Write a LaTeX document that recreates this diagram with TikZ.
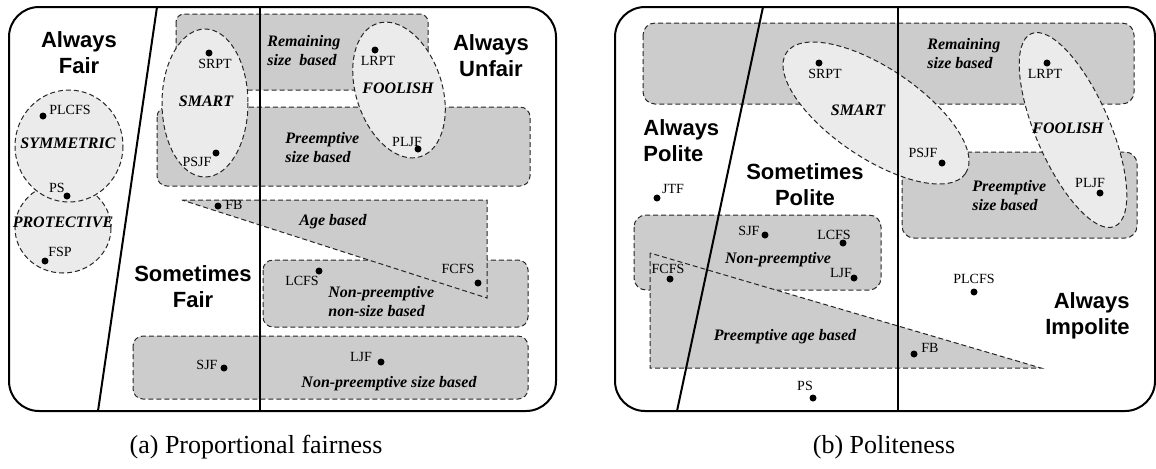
\documentclass[tikz,border=0pt]{standalone}
\usepackage{fontspec}
\setmainfont{Liberation Serif}
\newfontfamily\headfont{Liberation Sans}
\definecolor{boxgray}{gray}{0.8}
\definecolor{ellgray}{gray}{0.92}
\begin{document}
\begin{tikzpicture}[x=0.5pt,y=-0.5pt,
  frame/.style={line width=1pt, black},
  region/.style={draw=black!85, dash pattern=on 2.5pt off 1.5pt, line width=0.5pt, fill=boxgray},
  family/.style={draw=black!85, dash pattern=on 2.5pt off 1.5pt, line width=0.5pt, fill=ellgray},
  pt/.style={circle, fill=black, inner sep=0pt, minimum size=3.5pt},
  pname/.style={font=\fontsize{7}{8}\selectfont, inner sep=0pt},
  rname/.style={font=\fontsize{8}{9.5}\selectfont\bfseries\itshape, inner sep=0pt, align=left},
  zone/.style={font=\headfont\fontsize{11}{13}\selectfont\bfseries, inner sep=0pt, align=center},
  caption/.style={font=\fontsize{13}{15}\selectfont, inner sep=0pt}]
\useasboundingbox (0,0) rectangle (1156,468);

% ---------------- (a) Proportional fairness ----------------
% policy classes
\draw[region, rounded corners=4pt] (176,14) rectangle (428,90);
\draw[region, rounded corners=5pt] (157,107) rectangle (530,186);
\draw[region, rounded corners=5pt] (263,260) rectangle (528,327);
\draw[region] (182,200) -- (487,200) -- (487,298) -- cycle;
\draw[region, rounded corners=5pt] (133,336) rectangle (528,399);
% families
\draw[family] (205,103) ellipse [x radius=43, y radius=74];
\draw[family, rotate around={18:(399,90)}] (399,90) ellipse [x radius=43, y radius=70];
\draw[family] (63,228) ellipse [x radius=48, y radius=45];
\draw[family] (69,146) ellipse [x radius=54, y radius=56];
% frame and dividers
\coordinate (aTL) at (157,7);  \coordinate (aBL) at (98,411);
\coordinate (aTR) at (260,7);  \coordinate (aBR) at (260,411);
\draw[frame] (aTL) -- (aBL);
\draw[frame] (aTR) -- (aBR);
\draw[frame, rounded corners=15pt] (9,7) rectangle (556,411);

% zone names
\node[zone] (aFair) at (79,53) {Always\\Fair};
\node[zone] (aUnfair) at (491,56) {Always\\Unfair};
\node[zone] (aSome) at (193,287) {Sometimes\\Fair};

% class and family names
\node[rname, anchor=west] (aRem) at (267,51) {Remaining\\size\ \ based};
\node[rname, anchor=west] (aPre) at (285,148) {Preemptive\\size based};
\node[rname] (aAge) at (333,222) {Age based};
\node[rname, anchor=west] (aNps) at (328,302) {Non-preemptive\\non-size based};
\node[rname] (aNsz) at (389,384) {Non-preemptive size based};
\node[rname] (aSmart) at (206,101) {SMART};
\node[rname] (aFool) at (398,88) {FOOLISH};
\node[rname] (aSym) at (68,143) {SYMMETRIC};
\node[rname] (aProt) at (63,222) {PROTECTIVE};

% policies
\node[pt] (aSRPT) at (209,53) {};   \node[pname] (aSRPTl) at (215,64) {SRPT};
\node[pt] (aPSJF) at (216,153) {};  \node[pname] (aPSJFl) at (197,162) {PSJF};
\node[pt] (aLRPT) at (375,50) {};   \node[pname] (aLRPTl) at (378,61) {LRPT};
\node[pt] (aPLJF) at (418,149) {};  \node[pname] (aPLJFl) at (407,142) {PLJF};
\node[pt] (aPLCFS) at (43,116) {};  \node[pname] (aPLCFSl) at (70,110) {PLCFS};
\node[pt] (aPS) at (67,196) {};     \node[pname] (aPSl) at (57,188) {PS};
\node[pt] (aFSP) at (45,261) {};    \node[pname] (aFSPl) at (60,252) {FSP};
\node[pt] (aFB) at (218,206) {};    \node[pname] (aFBl) at (234,205) {FB};
\node[pt] (aFCFS) at (478,283) {};  \node[pname] (aFCFSl) at (458,269) {FCFS};
\node[pt] (aLCFS) at (319,271) {};  \node[pname] (aLCFSl) at (302,281) {LCFS};
\node[pt] (aSJF) at (224,368) {};   \node[pname] (aSJFl) at (207,365) {SJF};
\node[pt] (aLJF) at (381,362) {};   \node[pname] (aLJFl) at (361,357) {LJF};

\node[caption] (capA) at (256,447) {(a) Proportional fairness};

% ---------------- (b) Politeness ----------------
% policy classes
\draw[region, rounded corners=6pt] (643,23) rectangle (1134,104);
\draw[region, rounded corners=6pt] (902,152) rectangle (1137,238);
\draw[region, rounded corners=6pt] (634,215) rectangle (881,290);
\draw[region] (650,253) -- (650,368) -- (1041,368) -- cycle;
% families
\draw[family, rotate around={-34:(876,113)}] (876,113) ellipse [x radius=108, y radius=45];
\draw[family, rotate around={23.4:(1073,130)}] (1073,130) ellipse [x radius=37, y radius=105];
% frame and dividers
\coordinate (bTL) at (763,7);  \coordinate (bBL) at (677,411);
\coordinate (bTR) at (898,7);  \coordinate (bBR) at (898,411);
\draw[frame] (bTL) -- (bBL);
\draw[frame] (bTR) -- (bBR);
\draw[frame, rounded corners=15pt] (615,7) rectangle (1155,411);

% zone names
\node[zone, align=left, anchor=west] (bPolite) at (643,141) {Always\\Polite};
\node[zone] (bSome) at (805,185) {Sometimes\\Polite};
\node[zone, align=right, anchor=east] (bImp) at (1130,316) {Always\\Impolite};

% class and family names
\node[rname, anchor=west] (bRem) at (927,54) {Remaining\\size based};
\node[rname, anchor=west] (bPre) at (972,196) {Preemptive\\size based};
\node[rname] (bNp) at (778,260) {Non-preemptive};
\node[rname] (bAge) at (785,337) {Preemptive age based};
\node[rname] (bSmart) at (858,110) {SMART};
\node[rname] (bFool) at (1068,128) {FOOLISH};

% policies
\node[pt] (bSRPT) at (819,63) {};   \node[pname] (bSRPTl) at (825,74) {SRPT};
\node[pt] (bPSJF) at (942,163) {};  \node[pname] (bPSJFl) at (923,153) {PSJF};
\node[pt] (bLRPT) at (1047,63) {};  \node[pname] (bLRPTl) at (1045,74) {LRPT};
\node[pt] (bPLJF) at (1100,193) {}; \node[pname] (bPLJFl) at (1090,183) {PLJF};
\node[pt] (bJTF) at (657,198) {};   \node[pname] (bJTFl) at (673,189) {JTF};
\node[pt] (bSJF) at (765,235) {};   \node[pname] (bSJFl) at (749,231) {SJF};
\node[pt] (bLCFS) at (843,243) {};  \node[pname] (bLCFSl) at (834,235) {LCFS};
\node[pt] (bLJF) at (854,278) {};   \node[pname] (bLJFl) at (841,273) {LJF};
\node[pt] (bFCFS) at (670,279) {};  \node[pname] (bFCFSl) at (668,269) {FCFS};
\node[pt] (bFB) at (914,354) {};    \node[pname] (bFBl) at (930,348) {FB};
\node[pt] (bPLCFS) at (974,292) {}; \node[pname] (bPLCFSl) at (974,279) {PLCFS};
\node[pt] (bPS) at (813,398) {};    \node[pname] (bPSl) at (805,386) {PS};

\node[caption] (capB) at (884,447) {(b) Politeness};
\end{tikzpicture}
\end{document}
